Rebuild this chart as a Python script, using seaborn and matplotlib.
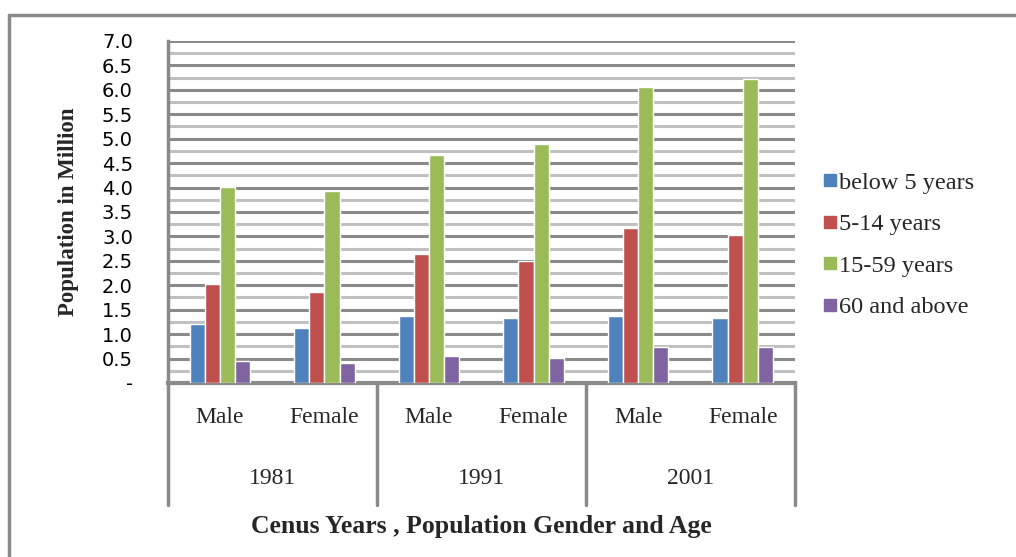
import seaborn as sns
import pandas as pd
import numpy as np
import matplotlib
matplotlib.use('Agg')
import matplotlib.pyplot as plt
from matplotlib.lines import Line2D

sns.set_style('white')

years = ['1981', '1991', '2001']
genders = ['Male', 'Female']
age_groups = ['below 5 years', '5-14 years', '15-59 years', '60 and above']
colors = ['#4F81BD', '#C0504D', '#9BBB59', '#8064A2']

# values in million, per census year / gender, one list per age group
below5 = [1.20, 1.12, 1.38, 1.34, 1.38, 1.34]
age5_14 = [2.02, 1.86, 2.65, 2.50, 3.18, 3.02]
age15_59 = [4.01, 3.92, 4.67, 4.89, 6.05, 6.23]
above60 = [0.45, 0.41, 0.56, 0.52, 0.74, 0.74]

cats = [y + ' ' + g for y in years for g in genders]
rows = []
for grp, vals in zip(age_groups, [below5, age5_14, age15_59, above60]):
    for c, v in zip(cats, vals):
        rows.append({'cat': c, 'age': grp, 'value': v})
df = pd.DataFrame(rows)

fig = plt.figure(figsize=(10.16, 5.57), dpi=100)
ax = fig.add_axes([0.165, 0.3124, 0.6175, 0.614])

sns.barplot(data=df, x='cat', y='value', hue='age', order=cats,
            hue_order=age_groups, palette=colors, width=0.58, gap=0,
            saturation=1, ax=ax, legend=False, zorder=3)

ax.set_ylim(0, 7.0)
ax.set_xlim(-0.5, 5.5)
ax.set_yticks(np.arange(0, 7.01, 0.5))
ax.set_yticklabels(['-'] + ['%.1f' % v for v in np.arange(0.5, 7.01, 0.5)],
                   fontsize=14, family='DejaVu Sans', color='black')
ax.set_yticks(np.arange(0.25, 7.0, 0.5), minor=True)
ax.grid(which='major', axis='y', color='#8a8a8a', lw=2.2, zorder=0)
ax.grid(which='minor', axis='y', color='#c0c0c0', lw=2.2, zorder=0)
ax.tick_params(axis='y', which='major', direction='out', length=8, width=2,
               color='#8a8a8a', pad=17)
ax.tick_params(axis='y', which='minor', length=0)
ax.set_xticks([])
ax.set_xlabel('')
for s in ['top', 'right']:
    ax.spines[s].set_visible(False)
ax.spines['left'].set_color('#8a8a8a')
ax.spines['left'].set_linewidth(2.5)
ax.spines['bottom'].set_color('#8a8a8a')
ax.spines['bottom'].set_linewidth(3)

ax.set_ylabel('Population in Million', family='Liberation Serif',
              fontweight='bold', fontsize=16.5, labelpad=16)

trans = ax.get_xaxis_transform()
for i, c in enumerate(cats):
    ax.text(i, -0.1, c.split(' ')[1], transform=trans, ha='center',
            va='center', family='Liberation Serif', fontsize=17)
for j, y in enumerate(years):
    ax.text(2 * j + 0.5, -0.278, y, transform=trans, ha='center',
            va='center', family='Liberation Serif', fontsize=17)
for xb in [-0.5, 1.5, 3.5, 5.5]:
    ax.plot([xb, xb], [0, -0.357], transform=trans, color='#8a8a8a',
            lw=2.5, clip_on=False)

ax.text(0.5, -0.42, 'Cenus Years , Population Gender and Age',
        transform=ax.transAxes, ha='center', va='center',
        family='Liberation Serif', fontweight='bold', fontsize=18.5)

handles = [Line2D([], [], marker='s', ls='', color=c, markersize=8)
           for c in colors]
fig.legend(handles, age_groups, loc='center left',
           bbox_to_anchor=(0.788, 0.56), frameon=False,
           prop={'family': 'Liberation Serif', 'size': 17.5},
           handlelength=0.6, handletextpad=0.1, labelspacing=0.8)

# outer chart frame (top and left edges visible)
fig.add_artist(Line2D([9 / 1016, 1.0], [1 - 15 / 557, 1 - 15 / 557],
                      transform=fig.transFigure, color='#8a8a8a', lw=2.5))
fig.add_artist(Line2D([9 / 1016, 9 / 1016], [0, 1 - 15 / 557],
                      transform=fig.transFigure, color='#8a8a8a', lw=2.5))

fig.savefig('out.png', dpi=100)
